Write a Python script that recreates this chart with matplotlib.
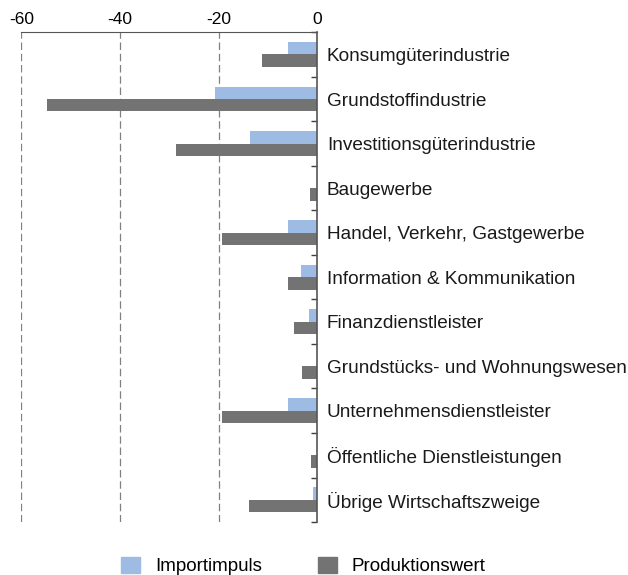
import numpy as np
import matplotlib.pyplot as plt
from matplotlib.patches import Patch

plt.rcParams['font.family'] = ['Liberation Sans', 'DejaVu Sans']

categories = [
    "Konsumgüterindustrie",
    "Grundstoffindustrie",
    "Investitionsgüterindustrie",
    "Baugewerbe",
    "Handel, Verkehr, Gastgewerbe",
    "Information & Kommunikation",
    "Finanzdienstleister",
    "Grundstücks- und Wohnungswesen",
    "Unternehmensdienstleister",
    "Öffentliche Dienstleistungen",
    "Übrige Wirtschaftszweige",
]
importimpuls = [-5.9, -20.7, -13.6, 0.0, -5.9, -3.2, -1.6, 0.0, -5.9, 0.0, -0.9]
produktionswert = [-11.2, -54.8, -28.7, -1.4, -19.4, -5.9, -4.7, -3.0, -19.4, -1.2, -13.8]
xticks = [-60, -40, -20, 0]

c_imp = "#9ebbe3"
c_prod = "#737373"

fig = plt.figure(figsize=(6.28, 5.75), dpi=100)
ax = fig.add_axes([0.034, 0.092, 0.471, 0.852])

y = np.arange(len(categories))
h = 0.28
ax.barh(y - h / 2, importimpuls, height=h, color=c_imp)
ax.barh(y + h / 2, produktionswert, height=h, color=c_prod)

ax.set_xlim(-60, 0)
ax.set_ylim(len(categories) - 0.5, -0.5)

# x axis on top
ax.xaxis.tick_top()
ax.set_xticks(xticks)
ax.set_xticklabels([str(t) for t in xticks])
ax.tick_params(axis="x", length=0, labelsize=12.5, pad=4)
for t in xticks[:-1]:
    ax.axvline(t, color="#808080", lw=0.9, ls=(0, (6, 3)), zorder=0)

# category labels right of the zero line
ax.yaxis.tick_right()
ax.set_yticks(y)
ax.set_yticklabels(categories)
ax.tick_params(axis="y", which="major", length=0, labelsize=13.7, pad=7)
ax.set_yticks(np.arange(len(categories) + 1) - 0.5, minor=True)
ax.tick_params(axis="y", which="minor", direction="in", length=4, color="#404040", width=1)
for lbl in ax.get_yticklabels():
    lbl.set_color("#1a1a1a")

for s in ["left", "bottom"]:
    ax.spines[s].set_visible(False)
ax.spines["top"].set_color("#555555")
ax.spines["right"].set_color("#555555")
ax.spines["right"].set_linewidth(1.2)

handles = [Patch(color=c_imp, label="Importimpuls"), Patch(color=c_prod, label="Produktionswert")]
fig.legend(handles=handles, loc="lower center", bbox_to_anchor=(0.483, -0.03), ncol=2,
           frameon=False, fontsize=13.5, handlelength=1.0, handleheight=1.0,
           columnspacing=3.0, handletextpad=0.8)

fig.savefig("out.png", dpi=100)
